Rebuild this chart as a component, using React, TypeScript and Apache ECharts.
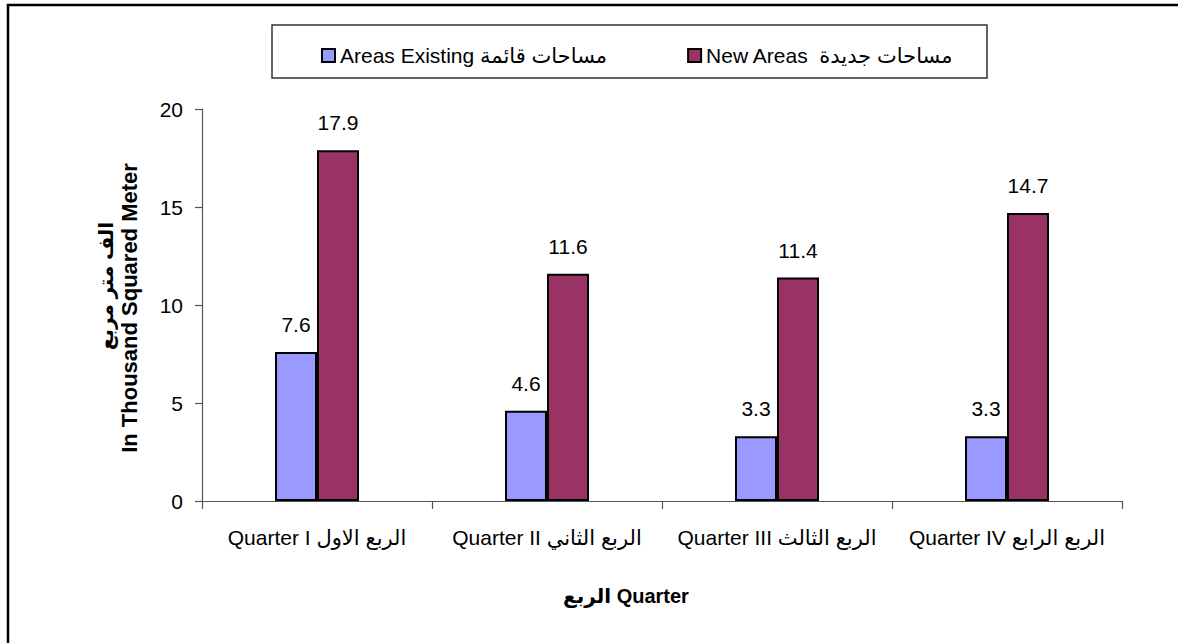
import React, { useEffect, useRef } from "react";
import * as echarts from "echarts";

const categories = [
  "Quarter I الربع الاول",
  "Quarter II الربع الثاني",
  "Quarter III الربع الثالث",
  "Quarter IV الربع الرابع",
];
const existingName = "Areas Existing مساحات قائمة";
const newName = "New Areas  مساحات جديدة";
const existingValues = [7.6, 4.6, 3.3, 3.3];
const newValues = [17.9, 11.6, 11.4, 14.7];
const yTitleEn = "In Thousand Squared Meter";
const yTitleAr = "الف متر مربع";
const xTitle = "الربع Quarter";

const FONT = "'Liberation Sans', Arial, 'DejaVu Sans', sans-serif";

export default function App() {
  const ref = useRef<HTMLDivElement>(null);
  useEffect(() => {
    if (!ref.current) return;
    const chart = echarts.init(ref.current, undefined, { renderer: "svg" });
    const labelStyle = {
      show: true,
      position: "top" as const,
      distance: 17,
      color: "#000",
      fontFamily: FONT,
      fontSize: 21,
    };
    chart.setOption({
      animation: false,
      backgroundColor: "#fff",
      textStyle: { fontFamily: FONT },
      grid: { left: 202, right: 56, top: 109, bottom: 142, containLabel: false },
      legend: {
        left: 316,
        top: 40,
        itemWidth: 13,
        itemHeight: 13,
        itemGap: 80,
        selectedMode: false,
        icon: "rect",
        textStyle: { color: "#000", fontSize: 21, fontFamily: FONT },
        data: [
          { name: existingName, itemStyle: { color: "#9999FF", borderColor: "#000", borderWidth: 2 } },
          { name: newName, itemStyle: { color: "#993366", borderColor: "#000", borderWidth: 2 } },
        ],
      },
      xAxis: {
        type: "category",
        data: categories,
        axisLine: { lineStyle: { color: "#555", width: 1.2 } },
        axisTick: { show: true, length: 8, lineStyle: { color: "#555", width: 1.2 } },
        axisLabel: { color: "#000", fontSize: 21, fontFamily: FONT, margin: 26, interval: 0 },
      },
      yAxis: {
        type: "value",
        min: 0,
        max: 20,
        interval: 5,
        splitLine: { show: false },
        axisLine: { show: true, lineStyle: { color: "#555", width: 1.2 } },
        axisTick: { show: true, length: 7, lineStyle: { color: "#555", width: 1.2 } },
        axisLabel: { color: "#000", fontSize: 21, fontFamily: FONT, margin: 19 },
      },
      series: [
        {
          name: existingName,
          type: "bar",
          data: existingValues,
          barWidth: 42,
          barGap: "0%",
          itemStyle: { color: "#9999FF", borderColor: "#000", borderWidth: 2 },
          label: labelStyle,
        },
        {
          name: newName,
          type: "bar",
          data: newValues,
          barWidth: 42,
          barGap: "0%",
          itemStyle: { color: "#993366", borderColor: "#000", borderWidth: 2 },
          label: labelStyle,
        },
      ],
      graphic: [
        {
          type: "rect",
          shape: { x: 8, y: 5, width: 1250, height: 700 },
          style: { fill: "none", stroke: "#000", lineWidth: 2.5 },
          silent: true,
        },
        {
          type: "rect",
          shape: { x: 272, y: 25, width: 715, height: 53 },
          style: { fill: "none", stroke: "#333", lineWidth: 1.5 },
          silent: true,
        },
        {
          type: "text",
          x: 129,
          y: 308,
          rotation: Math.PI / 2,
          style: {
            text: yTitleEn,
            fill: "#000",
            font: `bold 22px ${FONT}`,
            align: "center",
            verticalAlign: "middle",
          },
        },
        {
          type: "text",
          x: 106,
          y: 286,
          rotation: Math.PI / 2,
          style: {
            text: yTitleAr,
            fill: "#000",
            font: `bold 20px ${FONT}`,
            align: "center",
            verticalAlign: "middle",
          },
        },
        {
          type: "text",
          x: 626,
          y: 596,
          style: {
            text: xTitle,
            fill: "#000",
            font: `bold 20px ${FONT}`,
            align: "center",
            verticalAlign: "middle",
          },
        },
      ],
    });
    return () => chart.dispose();
  }, []);
  return (
    <div
      ref={ref}
      style={{ position: "fixed", left: 0, top: 0, width: 1178, height: 643 }}
    />
  );
}
